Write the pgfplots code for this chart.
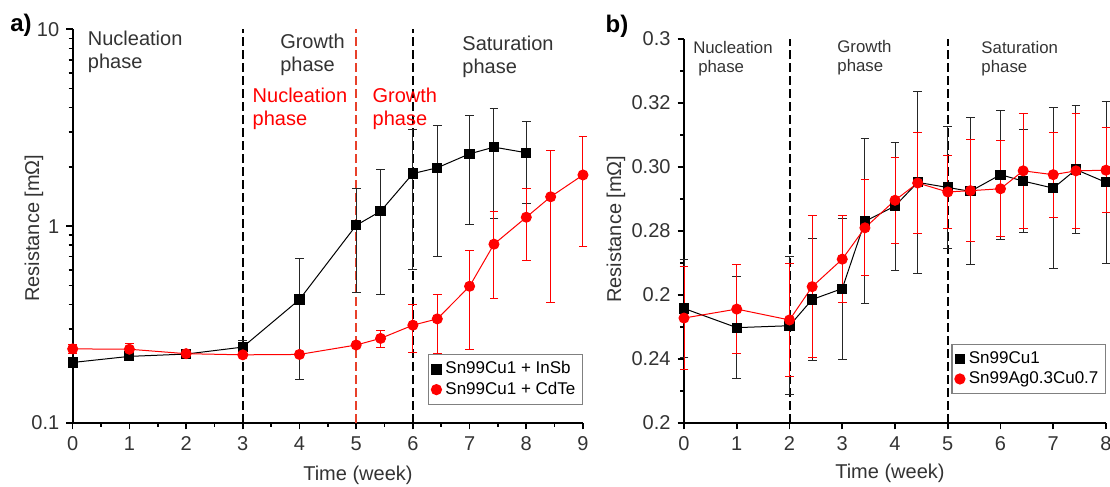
\documentclass[border=0pt]{standalone}
\usepackage{fontspec}
\setmainfont{Liberation Sans}
\usepackage{pgfplots}
\pgfplotsset{compat=1.18}
\definecolor{txt}{HTML}{333333}
\definecolor{sepred}{HTML}{E8402A}

\pgfplotsset{
  panel/.style={
    scale only axis,
    axis x line*=bottom, axis y line*=left,
    axis line style={line width=0.9pt, black},
    tick align=outside,
    major tick length=3.2pt, minor tick length=2pt,
    every tick/.style={line width=0.8pt, black},
    tick label style={font=\fontsize{10}{12}\selectfont, text=txt},
    /pgf/number format/assume math mode=true,
    label style={font=\fontsize{10}{12}\selectfont, text=txt},
    clip=false,
    legend cell align=left,
    legend style={draw=gray, line width=0.6pt, font=\fontsize{8.5}{9.5}\selectfont,
      inner sep=1.5pt, row sep=-1.5pt, anchor=south east},
    legend image code/.code={\draw[##1] plot coordinates {(0.12cm,0cm)};},
  },
  blk/.style={forget plot, black, line width=0.5pt, mark=square*, mark size=2.3pt,
    error bars/.cd, y dir=both, y explicit,
    error bar style={line width=0.5pt, black!85},
    error mark options={rotate=90, mark size=2.2pt, line width=0.5pt, black!85}},
  rd/.style={forget plot, red, line width=0.5pt, mark=*, mark size=2.5pt,
    error bars/.cd, y dir=both, y explicit,
    error bar style={line width=0.5pt, red},
    error mark options={rotate=90, mark size=2.2pt, line width=0.5pt, red}},
  sep/.style={forget plot, line width=1pt, dash pattern=on 4.5pt off 2pt},
}

\begin{document}
\begin{tikzpicture}

% ---------------- panel a ----------------
\begin{axis}[panel,
  at={(36.35pt,-211.5pt)}, anchor=south west,
  width=255.15pt, height=196.85pt,
  xmin=0, xmax=9, ymode=log, ymin=0.1, ymax=10,
  xtick={0,...,9}, minor x tick num=1,
  ytick={0.1,1,10}, yticklabels={0.1,1,10},
  xlabel={Time (week)}, ylabel={Resistance [mΩ]},
  xlabel style={at={(rel axis cs:0.559,-0.132)}, anchor=center},
  ylabel style={at={(rel axis cs:-0.0758,0.495)}, anchor=center},
  legend style={at={(rel axis cs:1,0.046)}},
]
\addplot[sep, black] coordinates {(3,0.1) (3,10)};
\addplot[sep, black] coordinates {(6,0.1) (6,10)};
\addplot[sep, sepred] coordinates {(5,0.1) (5,10)};

\addplot[blk] coordinates {
  (0,0.203) +- (0,0.009)
  (1,0.218) +- (0,0.008)
  (2,0.224) +- (0,0.006)
  (3,0.243) +- (0,0.020)
  (4,0.424) +- (0,0.258)
  (5,1.01) +- (0,0.55)
  (5.43,1.19) +- (0,0.74)
  (6,1.85) +- (0,1.25)
  (6.43,1.98) +- (0,1.28)
  (7,2.33) +- (0,1.31)
  (7.43,2.52) +- (0,1.42)
  (8,2.36) +- (0,1.05)
};
\addplot[rd] coordinates {
  (0,0.238) +- (0,0.012)
  (1,0.237) +- (0,0.015)
  (2,0.225) +- (0,0.004)
  (3,0.222) +- (0,0.0)
  (4,0.223) +- (0,0.0)
  (5,0.249) +- (0,0.0)
  (5.43,0.269) +- (0,0.027)
  (6,0.314) +- (0,0.085)
  (6.43,0.338) +- (0,0.112)
  (7,0.495) +- (0,0.26)
  (7.43,0.810) +- (0,0.38)
  (8,1.11) +- (0,0.44)
  (8.43,1.41) +- (0,1.00)
  (9,1.82) +- (0,1.03)
};

\addlegendimage{only marks, mark=square*, mark size=2.3pt, black}
\addlegendentry{Sn99Cu1 + InSb}
\addlegendimage{only marks, mark=*, mark size=2.5pt, red}
\addlegendentry{Sn99Cu1 + CdTe}

\node[anchor=west, align=left, inner sep=0, text=txt, font=\fontsize{10}{11.5}\selectfont]
  at (rel axis cs:0.029,0.944) {Nucleation\\phase};
\node[anchor=west, align=left, inner sep=0, text=txt, font=\fontsize{10}{11.5}\selectfont]
  at (rel axis cs:0.406,0.935) {Growth\\phase};
\node[anchor=west, align=left, inner sep=0, text=txt, font=\fontsize{10}{11.5}\selectfont]
  at (rel axis cs:0.763,0.931) {Saturation\\phase};
\node[anchor=west, align=left, inner sep=0, text=red, font=\fontsize{10}{11.5}\selectfont]
  at (rel axis cs:0.352,0.798) {Nucleation\\phase};
\node[anchor=west, align=left, inner sep=0, text=red, font=\fontsize{10}{11.5}\selectfont]
  at (rel axis cs:0.587,0.798) {Growth\\phase};
\end{axis}

% ---------------- panel b ----------------
\begin{axis}[panel,
  at={(342pt,-211.5pt)}, anchor=south west,
  width=211pt, height=192pt,
  xmin=0, xmax=8, ymin=0.2, ymax=0.32,
  xtick={0,...,8},
  ytick={0.20,0.22,0.24,0.26,0.28,0.30,0.32},
  yticklabels={0.2,0.24,0.2,0.28,0.30,0.32,0.3},
  minor y tick num=1,
  xlabel={Time (week)}, ylabel={Resistance [mΩ]},
  xlabel style={at={(rel axis cs:0.488,-0.130)}, anchor=center},
  ylabel style={at={(rel axis cs:-0.161,0.505)}, anchor=center},
  legend style={at={(rel axis cs:1,0.0755)}},
]
\addplot[sep, black] coordinates {(2,0.2) (2,0.32)};
\addplot[sep, black] coordinates {(5,0.2) (5,0.32)};

\addplot[blk] coordinates {
  (0,0.2358) +- (0,0.0154)
  (1,0.2298) +- (0,0.0160)
  (2,0.2304) +- (0,0.0215)
  (2.43,0.2386) +- (0,0.0190)
  (3,0.2420) +- (0,0.0220)
  (3.43,0.2630) +- (0,0.0258)
  (4,0.2678) +- (0,0.0200)
  (4.43,0.2752) +- (0,0.0285)
  (5,0.2736) +- (0,0.0190)
  (5.43,0.2724) +- (0,0.0230)
  (6,0.2776) +- (0,0.0202)
  (6.43,0.2756) +- (0,0.0162)
  (7,0.2734) +- (0,0.0252)
  (7.43,0.2792) +- (0,0.0200)
  (8,0.2752) +- (0,0.0253)
};
\addplot[rd] coordinates {
  (0,0.2328) +- (0,0.0162)
  (1,0.2356) +- (0,0.0140)
  (2,0.2322) +- (0,0.0177)
  (2.43,0.2426) +- (0,0.0222)
  (3,0.2512) +- (0,0.0135)
  (3.43,0.2610) +- (0,0.0150)
  (4,0.2696) +- (0,0.0134)
  (4.43,0.2750) +- (0,0.0158)
  (5,0.2722) +- (0,0.0114)
  (5.43,0.2726) +- (0,0.0160)
  (6,0.2732) +- (0,0.0150)
  (6.43,0.2788) +- (0,0.0180)
  (7,0.2776) +- (0,0.0133)
  (7.43,0.2788) +- (0,0.0180)
  (8,0.2790) +- (0,0.0133)
};

\addlegendimage{only marks, mark=square*, mark size=2.3pt, black}
\addlegendentry{Sn99Cu1}
\addlegendimage{only marks, mark=*, mark size=2.5pt, red}
\addlegendentry{Sn99Ag0.3Cu0.7}

\node[anchor=west, align=left, inner sep=0, text=txt, font=\fontsize{8.4}{9.5}\selectfont]
  at (rel axis cs:0.021,0.949) {Nucleation\\\hspace{2.5pt}phase};
\node[anchor=west, align=left, inner sep=0, text=txt, font=\fontsize{8.4}{9.5}\selectfont]
  at (rel axis cs:0.3626,0.952) {Growth\\phase};
\node[anchor=west, align=left, inner sep=0, text=txt, font=\fontsize{8.4}{9.5}\selectfont]
  at (rel axis cs:0.704,0.949) {Saturation\\phase};
\end{axis}

\node[font=\bfseries\fontsize{12}{14}\selectfont, inner sep=0] at (10.5pt,-12.5pt) {a)};
\node[font=\bfseries\fontsize{12}{14}\selectfont, inner sep=0] at (308.5pt,-13pt) {b)};

\pgfresetboundingbox
\useasboundingbox (0pt,-243.5pt) rectangle (555pt,0pt);
\end{tikzpicture}
\end{document}
